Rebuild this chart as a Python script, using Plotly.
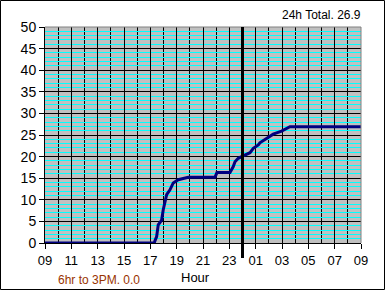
import plotly.graph_objects as go

# Data: hours after 09:00, cumulative rainfall
hours = [0, 8.3, 8.35, 8.48, 8.6, 8.86, 8.98, 9.11, 9.24, 9.49, 9.74, 10.12, 10.5, 10.88,
         12.91, 13.06, 14.05, 14.3, 14.43, 14.68, 14.93, 15.19, 15.57, 15.82, 16.2, 16.32,
         16.83, 17.33, 17.97, 18.6, 24]
values = [0, 0, 0.5, 1.5, 4.2, 5.3, 7.7, 9.6, 11.2, 12.3, 13.9, 14.65, 15.0, 15.2,
          15.2, 16.3, 16.3, 17.7, 18.8, 19.6, 20.0, 20.4, 20.9, 21.9, 22.7, 23.2,
          24.2, 25.2, 25.9, 26.9, 26.9]
tick_hours = [0, 2, 4, 6, 8, 10, 12, 14, 16, 18, 20, 22, 24]
tick_labels = ["09", "11", "13", "15", "17", "19", "21", "23", "01", "03", "05", "07", "09"]
midnight = 15
total_text = "24h Total. 26.9"
sub_text = "6hr to 3PM. 0.0"

W, H = 385, 290
L, R, T, B = 45, 24, 27, 47
pw, ph = W - L - R, H - T - B

font = "Arial, Liberation Sans, sans-serif"

fig = go.Figure()
fig.add_trace(go.Scatter(x=hours, y=values, mode="lines",
                         line=dict(color="#000080", width=3), hoverinfo="skip"))

fig.update_layout(
    width=W, height=H,
    margin=dict(l=L, r=R, t=T, b=B),
    paper_bgcolor="white", plot_bgcolor="#C0C0C0",
    showlegend=False,
    font=dict(family=font, size=13, color="black"),
    xaxis=dict(range=[0, 24], tickvals=tick_hours, ticktext=tick_labels,
               ticks="outside", ticklen=5, tickcolor="black", tickwidth=1,
               showgrid=True, gridcolor="black", gridwidth=1,
               minor=dict(dtick=1, tick0=0, showgrid=True, gridcolor="black",
                          gridwidth=1, ticks=""),
               showline=True, linecolor="black", linewidth=1,
               zeroline=False, fixedrange=True,
               tickfont=dict(size=13)),
    yaxis=dict(range=[0, 50], dtick=5, tick0=0,
               ticks="outside", ticklen=5, tickcolor="black", tickwidth=1,
               showgrid=True, gridcolor="black", gridwidth=1,
               minor=dict(dtick=1, tick0=0, showgrid=True, gridcolor="#00FFFF",
                          gridwidth=1, ticks=""),
               showline=True, linecolor="black", linewidth=1,
               zeroline=False, fixedrange=True,
               tickfont=dict(size=14)),
    shapes=[
        # top & right plot border (gray)
        dict(type="line", xref="paper", yref="paper", x0=0, x1=1, y0=1, y1=1,
             line=dict(color="#808080", width=1), layer="above"),
        dict(type="line", xref="paper", yref="paper", x0=1, x1=1, y0=0, y1=1,
             line=dict(color="#808080", width=1), layer="above"),
        # midnight marker
        dict(type="line", xref="x", yref="paper", x0=midnight, x1=midnight,
             y0=-15 / ph, y1=1, line=dict(color="black", width=3), layer="above"),
        # outer figure border
        dict(type="rect", xref="paper", yref="paper",
             x0=-(L - 0.5) / pw, x1=(pw + R - 0.5) / pw,
             y0=-(B - 0.5) / ph, y1=(ph + T - 0.5) / ph,
             line=dict(color="black", width=1), fillcolor="rgba(0,0,0,0)"),
    ],
    annotations=[
        dict(text=total_text, xref="paper", yref="paper",
             x=(363 - L) / pw, y=1 + (T - 15) / ph, xanchor="right", yanchor="middle",
             showarrow=False, font=dict(size=12, color="black")),
        dict(text=sub_text, xref="paper", yref="paper",
             x=(56 - L) / pw, y=-(280 - (H - B)) / ph, xanchor="left", yanchor="middle",
             showarrow=False, font=dict(size=12, color="#993300")),
        dict(text="Hour", xref="paper", yref="paper",
             x=(195 - L) / pw, y=-(277 - (H - B)) / ph, xanchor="center", yanchor="middle",
             showarrow=False, font=dict(size=13, color="black")),
    ],
)
fig.write_html("out.html")
